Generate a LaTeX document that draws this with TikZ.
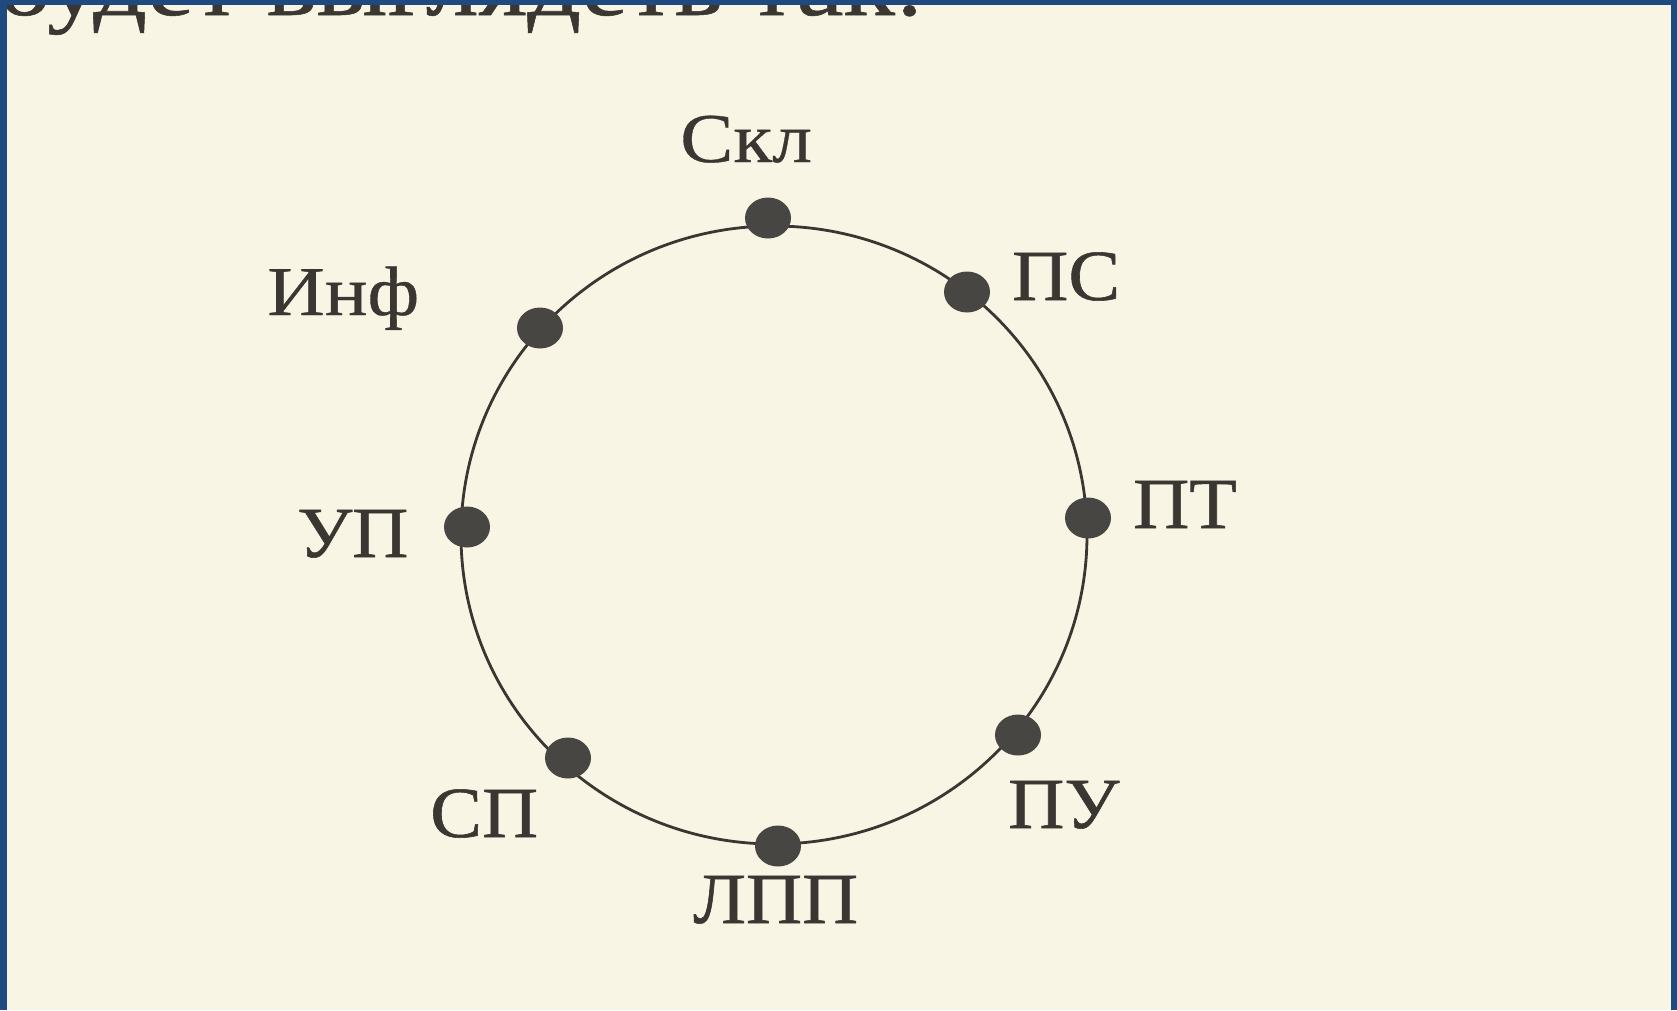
\documentclass[tikz,border=0pt]{standalone}
\usepackage{fontspec}
\setmainfont{Liberation Serif}
\newfontfamily\labfont[FakeStretch=1.08,FakeBold=0.8]{Liberation Serif}
\newfontfamily\labfontw[FakeStretch=1.14,FakeBold=0.5]{Liberation Serif}
\newfontfamily\topfont[FakeStretch=1.15,FakeBold=0.6]{Liberation Serif}
\usetikzlibrary{shapes.geometric}
\definecolor{frameblue}{RGB}{31,74,128}
\definecolor{paper}{RGB}{249,245,229}
\definecolor{ink}{RGB}{58,55,50}
\definecolor{dotc}{RGB}{72,70,66}
\begin{document}
\begin{tikzpicture}[x=1pt,y=-1pt,
  dotn/.style={ellipse, fill=dotc, inner sep=0pt, minimum width=46pt, minimum height=41pt},
  lab/.style={inner sep=0pt, anchor=base west, text=ink, font=\labfont\fontsize{72}{80}\selectfont},
  labw/.style={lab, font=\labfontw\fontsize{70}{78}\selectfont}]
\useasboundingbox (0,0) rectangle (1677,1010);
\fill[frameblue] (0,0) rectangle (1677,1010);
\fill[paper] (7,5) rectangle (1671,1010);
\begin{scope}
  \clip (7,5) rectangle (1671,1010);
  \node[lab, font=\topfont\fontsize{92}{100}\selectfont] (top) at (-3,15) {будет выглядеть так:};
\end{scope}
\draw[ink, line width=2.8pt] (774,535) ellipse [x radius=313, y radius=309];
\node[dotn] (d1) at (768,218) {};
\node[dotn] (d2) at (967,292) {};
\node[dotn] (d3) at (1088,518) {};
\node[dotn] (d4) at (1018,735) {};
\node[dotn] (d5) at (778,846) {};
\node[dotn] (d6) at (568,758) {};
\node[dotn] (d7) at (467,527) {};
\node[dotn] (d8) at (540,328) {};
\node[labw] (l1) at (680,162) {Скл};
\node[lab] (l2) at (1012,300) {ПС};
\node[lab] (l3) at (1133,528) {ПТ};
\node[lab] (l4) at (1008,828) {ПУ};
\node[lab] (l5) at (693,923) {ЛПП};
\node[lab] (l6) at (430,837) {СП};
\node[lab] (l7) at (297,557) {УП};
\node[labw] (l8) at (267,315) {Инф};
\end{tikzpicture}
\end{document}
